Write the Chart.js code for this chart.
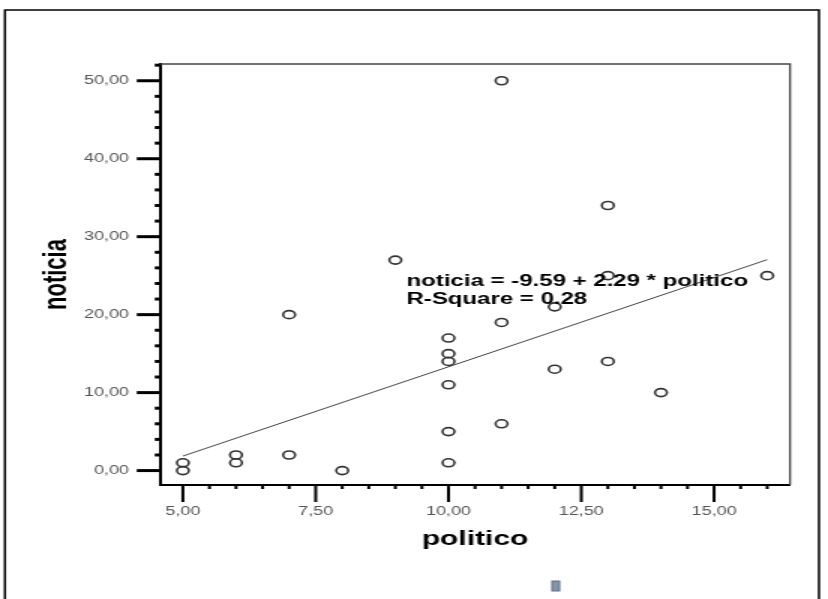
<!DOCTYPE html>
<html>
<head>
<meta charset="utf-8">
<script src="https://cdn.jsdelivr.net/npm/chart.js@4.4.1/dist/chart.umd.min.js"></script>
<style>
html, body { margin: 0; padding: 0; background: #fff; overflow: hidden; }
#wrap { width: 828px; height: 599px; position: relative; overflow: hidden; }
/* the original picture is stretched sideways, so the canvas is too */
#chart { position: absolute; left: 0; top: 0; transform: scaleX(1.5); transform-origin: 0 0; }
</style>
</head>
<body>
<div id="wrap"><canvas id="chart" width="552" height="599"></canvas></div>
<script>
var politico = [5, 5, 6, 6, 7, 7, 8, 9, 10, 10, 10, 10, 10, 10, 11, 11, 11, 12, 12, 13, 13, 13, 14, 16];
var noticia = [0, 1, 1, 2, 2, 20, 0, 27, 1, 5, 11, 14, 15, 17, 50, 19, 6, 13, 21, 34, 25, 14, 10, 25];

// fitted line ends
var fitX = [5, 16];
var fitY = [1.86, 27.05];

var xTicks = [5, 7.5, 10, 12.5, 15];
var yTicks = [0, 10, 20, 30, 40, 50];
var xMinor = [5.5, 6, 6.5, 7, 8, 8.5, 9, 9.5, 10.5, 11, 11.5, 12, 13, 13.5, 14, 14.5, 15.5, 16];
var yMinor = [2, 4, 6, 8, 12, 14, 16, 18, 22, 24, 26, 28, 32, 34, 36, 38, 42, 44, 46, 48, 52];

var fitText = ['noticia = -9.59 + 2.29 * politico', 'R-Square = 0.28'];

var FONT = '"Liberation Sans", Arial, sans-serif';

function fmt(v) {
    return v.toFixed(2).replace('.', ',');
}

var extras = {
    id: 'extras',
    afterDraw: function(chart) {
        var ctx = chart.ctx;
        var a = chart.chartArea;
        var xs = chart.scales.x;
        var ys = chart.scales.y;
        ctx.save();

        // outer frame
        ctx.strokeStyle = '#000';
        ctx.lineWidth = 1.5;
        ctx.beginPath();
        ctx.moveTo(3.3, 610);
        ctx.lineTo(3.3, 10);
        ctx.lineTo(546, 10);
        ctx.lineTo(546, 610);
        ctx.stroke();

        // top and right of the plot box
        ctx.strokeStyle = '#444';
        ctx.lineWidth = 1.3;
        ctx.beginPath();
        ctx.moveTo(a.left, a.top);
        ctx.lineTo(a.right, a.top);
        ctx.lineTo(a.right, a.bottom);
        ctx.stroke();

        // tick marks
        ctx.strokeStyle = '#000';
        ctx.lineWidth = 3;
        yTicks.forEach(function(v) {
            var p = ys.getPixelForValue(v);
            ctx.beginPath(); ctx.moveTo(a.left - 15.5, p); ctx.lineTo(a.left, p); ctx.stroke();
        });
        yMinor.forEach(function(v) {
            var p = ys.getPixelForValue(v);
            ctx.beginPath(); ctx.moveTo(a.left - 3.5, p); ctx.lineTo(a.left, p); ctx.stroke();
        });
        ctx.lineWidth = 2;
        xTicks.forEach(function(v) {
            var p = xs.getPixelForValue(v);
            ctx.beginPath(); ctx.moveTo(p, a.bottom); ctx.lineTo(p, a.bottom + 17); ctx.stroke();
        });
        xMinor.forEach(function(v) {
            var p = xs.getPixelForValue(v);
            ctx.beginPath(); ctx.moveTo(p, a.bottom); ctx.lineTo(p, a.bottom + 4); ctx.stroke();
        });

        // regression text
        ctx.fillStyle = '#000';
        ctx.font = 'bold 16px ' + FONT;
        ctx.textAlign = 'left';
        ctx.textBaseline = 'middle';
        var tx = xs.getPixelForValue(9.21);
        ctx.fillText(fitText[0], tx, ys.getPixelForValue(24.3));
        ctx.fillText(fitText[1], tx, ys.getPixelForValue(21.9));

        // little object handle under the chart
        ctx.fillStyle = '#8596ab';
        ctx.strokeStyle = '#5d6f86';
        ctx.lineWidth = 1;
        ctx.fillRect(368, 581, 5, 10);
        ctx.strokeRect(368, 581, 5, 10);

        ctx.restore();
    }
};

var ctx = document.getElementById('chart').getContext('2d');
var chart = new Chart(ctx, {
    type: 'scatter',
    data: {
        datasets: [{
            label: 'noticia',
            data: politico.map(function(x, i) { return {x: x, y: noticia[i]}; }),
            pointStyle: 'circle',
            pointRadius: 4,
            pointBorderWidth: 1.6,
            borderColor: '#333',
            backgroundColor: 'rgba(0,0,0,0)'
        }, {
            type: 'line',
            label: 'fit',
            data: fitX.map(function(x, i) { return {x: x, y: fitY[i]}; }),
            borderColor: '#444',
            borderWidth: 1,
            pointRadius: 0,
            fill: false
        }]
    },
    options: {
        responsive: false,
        animation: false,
        devicePixelRatio: 1,
        layout: { padding: { left: 0, top: 64, right: 25.3, bottom: 0 } },
        plugins: {
            legend: { display: false },
            tooltip: { enabled: false }
        },
        scales: {
            x: {
                type: 'linear',
                position: 'bottom',
                min: 4.57,
                max: 16.43,
                afterBuildTicks: function(s) { s.ticks = xTicks.map(function(v) { return {value: v}; }); },
                afterFit: function(s) { s.height = 114; },
                grid: { display: false, drawTicks: false },
                border: { display: true, color: '#000', width: 2 },
                ticks: {
                    padding: 19.5,
                    maxRotation: 0,
                    autoSkip: false,
                    color: '#555',
                    font: { family: FONT, size: 12 },
                    callback: function(v) { return fmt(v); }
                },
                title: {
                    display: true,
                    text: 'politico',
                    color: '#000',
                    font: { family: FONT, size: 20, weight: 'bold' },
                    padding: { top: 0, bottom: 48 }
                }
            },
            y: {
                type: 'linear',
                position: 'left',
                min: -1.85,
                max: 52.15,
                afterBuildTicks: function(s) { s.ticks = yTicks.map(function(v) { return {value: v}; }); },
                afterFit: function(s) { s.width = 106.7; },
                grid: { display: false, drawTicks: false },
                border: { display: true, color: '#000', width: 2 },
                ticks: {
                    padding: 20.7,
                    autoSkip: false,
                    color: '#555',
                    font: { family: FONT, size: 12 },
                    callback: function(v) { return fmt(v); }
                },
                title: {
                    display: true,
                    text: 'noticia',
                    color: '#000',
                    font: { family: FONT, size: 22, weight: 'bold' },
                    padding: { top: 24.6, bottom: 0 }
                }
            }
        }
    },
    plugins: [extras]
});
</script>
</body>
</html>
